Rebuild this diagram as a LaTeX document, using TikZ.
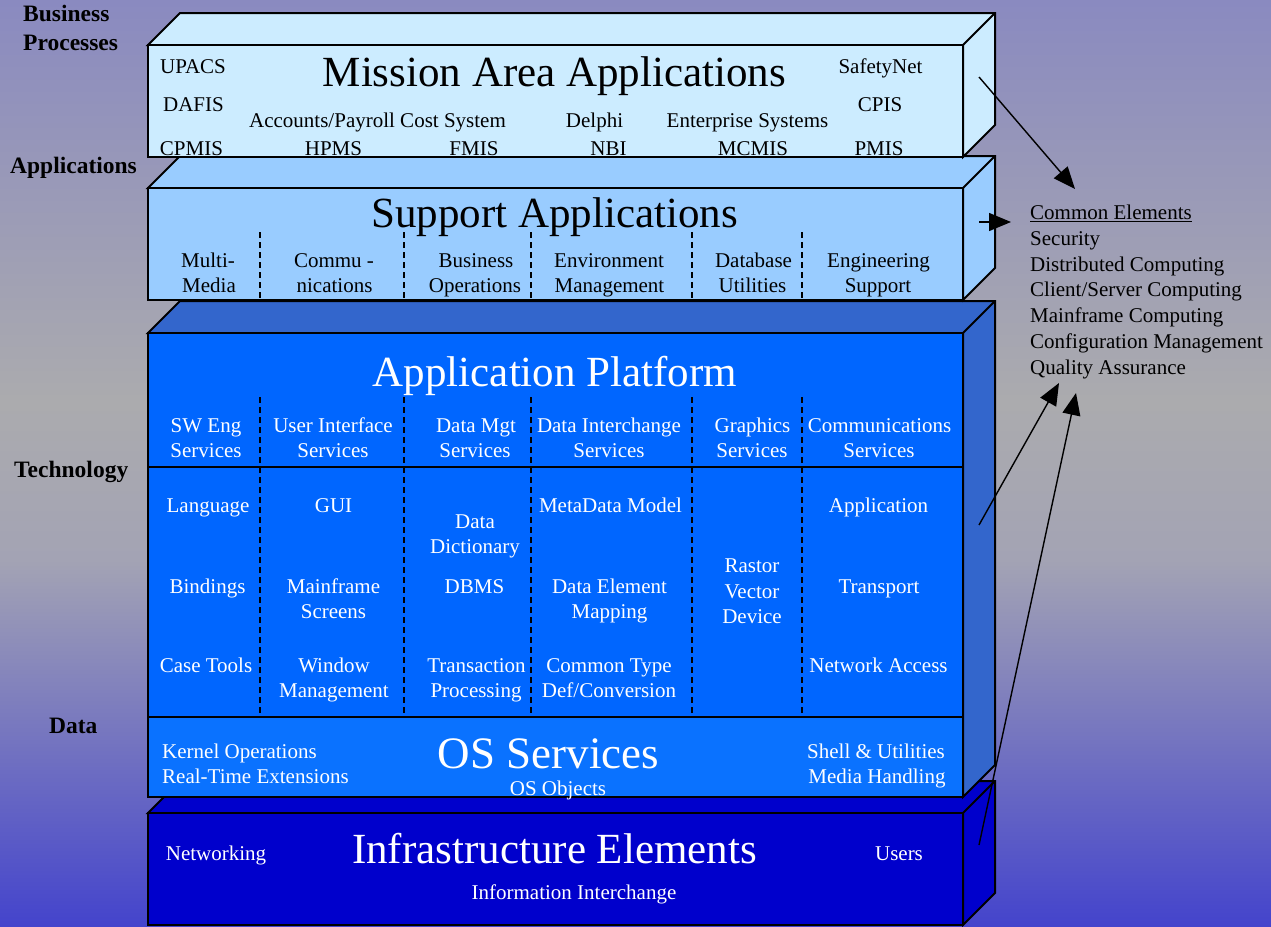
\documentclass[tikz,border=0pt]{standalone}
\usepackage{fontspec}
\setmainfont{Liberation Serif}
\usetikzlibrary{arrows.meta}
\definecolor{bgtop}{RGB}{138,138,192}
\definecolor{bgmid}{RGB}{171,171,174}
\definecolor{bgmidb}{RGB}{163,163,180}
\definecolor{bgbot}{RGB}{68,68,204}
\definecolor{maf}{HTML}{CCECFF}
\definecolor{saf}{HTML}{99CCFF}
\definecolor{apf}{HTML}{0066FF}
\definecolor{aps}{HTML}{3366CC}
\definecolor{osf}{RGB}{10,114,255}
\definecolor{inf}{HTML}{0000CC}
\tikzset{
  cubeline/.style={draw=black,line width=2pt,line join=miter},
  sidelabel/.style={font=\fontsize{23.5}{29}\selectfont\bfseries,anchor=base west,inner sep=0pt},
  titletext/.style={font=\fontsize{43}{48}\selectfont,anchor=base,inner sep=0pt},
  item/.style={font=\fontsize{21}{25.5}\selectfont,anchor=base,inner sep=0pt},
  witem/.style={item,text=white},
  litem/.style={item,anchor=base west},
  divider/.style={draw=black,line width=1.5pt,dash pattern=on 6pt off 4pt},
  solidrule/.style={draw=black,line width=2pt},
  pointer/.style={draw=black,line width=1.4pt,-{Triangle[length=22pt,width=18pt]}}
}
\newcommand\layercube[6]{%
  \filldraw[fill=#6,cubeline] (#1,#2) -- (#1+32,#2-32) -- (#3+32,#2-32) -- (#3+32,#4-32) -- (#3,#4) -- (#3,#2) -- cycle;
  \draw[cubeline] (#3,#2) -- (#3+32,#2-32);
  \filldraw[fill=#5,cubeline] (#1,#2) rectangle (#3,#4);}
\begin{document}
\begin{tikzpicture}[x=1pt,y=-1pt]
\useasboundingbox (0,0) rectangle (1271,926);
% background
\shade[top color=bgtop,bottom color=bgmid] (0,0) rectangle (1271,401);
\shade[top color=bgmid,bottom color=bgmidb] (0,400) rectangle (1271,561);
\shade[top color=bgmidb,bottom color=bgbot] (0,560) rectangle (1271,926);

% left labels
\node[sidelabel] (lbp1) at (23,21.7) {Business};
\node[sidelabel] (lbp2) at (23,50.7) {Processes};
\node[sidelabel] (lapp) at (10,173) {Applications};
\node[sidelabel] (ltec) at (14,477) {Technology};
\node[sidelabel] (ldat) at (49,733) {Data};

% cubes (bottom to top)
\layercube{148}{813}{963}{925}{inf}{inf}
\layercube{148}{333}{963}{797}{apf}{aps}
\fill[osf] (149,718) rectangle (962,796);
\draw[solidrule] (148,717) -- (963,717);
\draw[cubeline] (148,333) rectangle (963,797);
\draw[solidrule] (148,467) -- (963,467);
\layercube{148}{188}{963}{300}{saf}{saf}
\layercube{148}{45}{963}{157}{maf}{maf}

% dividers
\foreach \xx in {260,404,531,692,802} {
  \draw[divider] (\xx,232) -- (\xx,300);
  \draw[divider] (\xx,397) -- (\xx,717);
}

% Mission Area Applications
\node[titletext] (tma) at (554.5,86) {Mission Area Applications};
\node[item] (m1) at (193,73) {UPACS};
\node[item] (m2) at (193.5,111) {DAFIS};
\node[item] (m3) at (191.5,155) {CPMIS};
\node[item] (m4) at (377.5,127) {Accounts/Payroll Cost System};
\node[item] (m5) at (594.5,127) {Delphi};
\node[item] (m6) at (747.5,127) {Enterprise Systems};
\node[item] (m7) at (880.5,73) {SafetyNet};
\node[item] (m8) at (880,111) {CPIS};
\node[item] (m9) at (333.5,155) {HPMS};
\node[item] (m10) at (474,155) {FMIS};
\node[item] (m11) at (608.5,155) {NBI};
\node[item] (m12) at (753,155) {MCMIS};
\node[item] (m13) at (879,155) {PMIS};

% Support Applications
\node[titletext] (tsa) at (554.5,227) {Support Applications};
\node[item] (s1a) at (208,267) {Multi-};
\node[item] (s1b) at (209,292) {Media};
\node[item] (s2a) at (334,267) {Commu -};
\node[item] (s2b) at (334.5,292) {nications};
\node[item] (s3a) at (476,267) {Business};
\node[item] (s3b) at (475,292) {Operations};
\node[item] (s4a) at (609,267) {Environment};
\node[item] (s4b) at (609.5,292) {Management};
\node[item] (s5a) at (753.5,267) {Database};
\node[item] (s5b) at (752.5,292) {Utilities};
\node[item] (s6a) at (878.5,267) {Engineering};
\node[item] (s6b) at (878,292) {Support};

% Application Platform
\node[titletext,text=white] (tap) at (555,386) {Application Platform};
\node[witem] (h1a) at (206,432) {SW Eng};
\node[witem] (h1b) at (206,457) {Services};
\node[witem] (h2a) at (333,432) {User Interface};
\node[witem] (h2b) at (333,457) {Services};
\node[witem] (h3a) at (476,432) {Data Mgt};
\node[witem] (h3b) at (475,457) {Services};
\node[witem] (h4a) at (609,432) {Data Interchange};
\node[witem] (h4b) at (609,457) {Services};
\node[witem] (h5a) at (752.5,432) {Graphics};
\node[witem] (h5b) at (752,457) {Services};
\node[witem] (h6a) at (879.5,432) {Communications};
\node[witem] (h6b) at (879,457) {Services};

\node[witem] (p1) at (208,512) {Language};
\node[witem] (p2) at (333.5,512) {GUI};
\node[witem] (p3a) at (475,528) {Data};
\node[witem] (p3b) at (475,553) {Dictionary};
\node[witem] (p4) at (610.5,512) {MetaData Model};
\node[witem] (p6) at (878.5,512) {Application};
\node[witem] (q1) at (207.5,593) {Bindings};
\node[witem] (q2a) at (333.5,593) {Mainframe};
\node[witem] (q2b) at (333.5,618) {Screens};
\node[witem] (q3) at (474.5,593) {DBMS};
\node[witem] (q4a) at (609.5,593) {Data Element};
\node[witem] (q4b) at (609.5,618) {Mapping};
\node[witem] (q5a) at (752,572) {Rastor};
\node[witem] (q5b) at (752,598) {Vector};
\node[witem] (q5c) at (752,623) {Device};
\node[witem] (q6) at (879,593) {Transport};
\node[witem] (r1) at (206,672) {Case Tools};
\node[witem] (r2a) at (334,672) {Window};
\node[witem] (r2b) at (334,697) {Management};
\node[witem] (r3a) at (476.5,672) {Transaction};
\node[witem] (r3b) at (476,697) {Processing};
\node[witem] (r4a) at (609,672) {Common Type};
\node[witem] (r4b) at (609,697) {Def/Conversion};
\node[witem] (r6) at (878.5,672) {Network Access};

% OS Services
\node[litem,text=white] (o1) at (162,758) {Kernel Operations};
\node[litem,text=white] (o2) at (162,783) {Real-Time Extensions};
\node[titletext,text=white,font=\fontsize{45}{50}\selectfont] (tos) at (548.5,768) {OS Services};
\node[witem] (o3) at (558,795) {OS Objects};
\node[witem] (o4) at (876,758) {Shell \& Utilities};
\node[witem] (o5) at (877,783) {Media Handling};

% Infrastructure Elements
\node[titletext,text=white] (tie) at (554.5,863) {Infrastructure Elements};
\node[witem] (i1) at (216,860) {Networking};
\node[witem] (i2) at (899,860) {Users};
\node[witem] (i3) at (574,899) {Information Interchange};

% Common elements list
\node[litem] (c0) at (1030,219.5) {\underline{Common Elements}};
\node[litem] (c1) at (1030,245.25) {Security};
\node[litem] (c2) at (1030,271) {Distributed Computing};
\node[litem] (c3) at (1030,296.75) {Client/Server Computing};
\node[litem] (c4) at (1030,322.5) {Mainframe Computing};
\node[litem] (c5) at (1030,348.25) {Configuration Management};
\node[litem] (c6) at (1030,374) {Quality Assurance};

% pointers
\coordinate (a1s) at (979,77);   \coordinate (a1e) at (1075,189);
\coordinate (a2s) at (979,222);  \coordinate (a2e) at (1011,222);
\coordinate (a3s) at (979,525);  \coordinate (a3e) at (1059,383);
\coordinate (a4s) at (979,845);  \coordinate (a4e) at (1076,393);
\draw[pointer] (a1s) -- (a1e);
\draw[pointer] (a2s) -- (a2e);
\draw[pointer] (a3s) -- (a3e);
\draw[pointer] (a4s) -- (a4e);
\end{tikzpicture}
\end{document}
